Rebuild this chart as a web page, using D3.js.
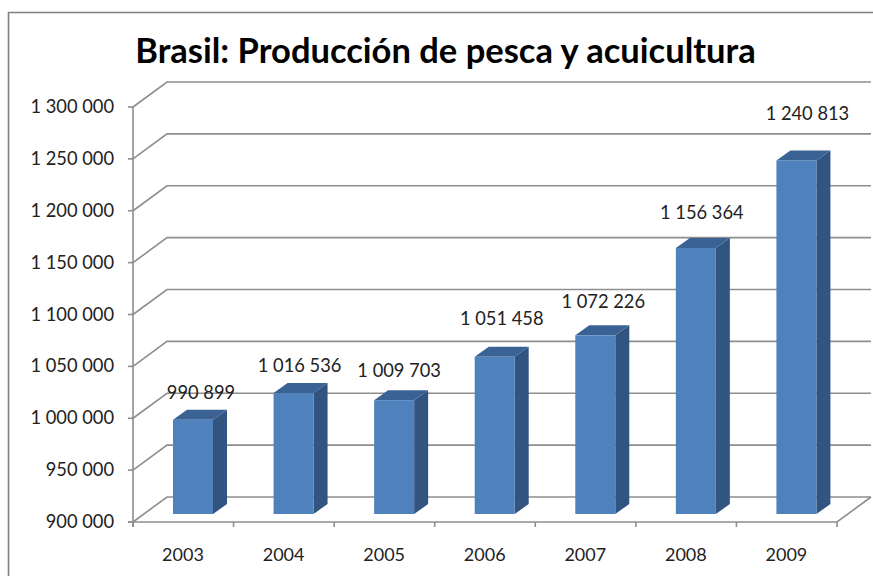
<!DOCTYPE html>
<html><head><meta charset="utf-8">
<script src="https://cdnjs.cloudflare.com/ajax/libs/d3/7.8.5/d3.min.js"></script>
<style>html,body{margin:0;padding:0;background:#fff}svg{display:block}text{font-family:Lato,"Open Sans",sans-serif;fill:#222}</style>
</head><body><script>
const years=["2003","2004","2005","2006","2007","2008","2009"];
const production=[990899,1016536,1009703,1051458,1072226,1156364,1240813];
const valueLabels=["990 899","1 016 536","1 009 703","1 051 458","1 072 226","1 156 364","1 240 813"];
const yTicks=[900000,950000,1000000,1050000,1100000,1150000,1200000,1250000,1300000];
const yTickLabels=["900 000","950 000","1 000 000","1 050 000","1 100 000","1 150 000","1 200 000","1 250 000","1 300 000"];
const chartTitle="Brasil: Producción de pesca y acuicultura";
const labelNudgeX=[-2,-4,-5,-3,-2,-4,1];
const labelNudgeY=[1,1,-1,-10,-5,-7,-18];

const W=873,H=576;
const svg=d3.select("body").append("svg").attr("width",W).attr("height",H);
const x=d3.scaleBand().domain(years).range([133,837]);
const y=d3.scaleLinear().domain([900000,1300000]).range([522,107]);
const wallDx=34,wallDy=-25,gridC="#8e8e8e";
const barW=40,barLeft=40,baseLift=8,depthX=14,depthY=-10;

svg.append("path").attr("d",`M8.5 576V12.5H873`).attr("fill","none").attr("stroke","#808080").attr("stroke-width",1.6);
svg.append("text").attr("x",445.5).attr("y",63).attr("text-anchor","middle").attr("font-size",34.5).attr("font-weight",700)
  .style("fill","#000").text(chartTitle);

const grid=svg.append("g").attr("fill","none").attr("stroke",gridC).attr("stroke-width",1.6);
grid.selectAll("path.g").data(yTicks).join("path").attr("class","g")
  .attr("d",d=>{const p=y(d);return `M133 ${p}L${133+wallDx} ${p+wallDy}H871`;});
grid.append("path").attr("d",`M133 ${y(1300000)}V527M128 522H837L871 497M837 522V527`);
grid.selectAll("path.t").data(yTicks).join("path").attr("class","t").attr("d",d=>`M128 ${y(d)}H133`);
grid.selectAll("path.c").data(years).join("path").attr("class","c").attr("d",d=>`M${x(d)} 522V527`);

svg.append("g").selectAll("text").data(yTicks).join("text")
  .attr("x",114).attr("y",d=>y(d)+6).attr("text-anchor","end").attr("font-size",18.3)
  .text((d,i)=>yTickLabels[i]);
svg.append("g").selectAll("text").data(years).join("text")
  .attr("x",d=>x(d)+barLeft+barW/2-10).attr("y",561).attr("text-anchor","middle").attr("font-size",18).text(d=>d);

const bars=svg.append("g").selectAll("g").data(years).join("g");
const barTop=(d,i)=>y(production[i])-baseLift;
bars.append("path").attr("fill","#325480")
  .attr("d",(d,i)=>{const l=x(d)+barLeft+barW,t=barTop(d,i),b=522-baseLift;
    return `M${l} ${t}l${depthX} ${depthY}V${b+depthY}L${l} ${b}Z`;});
bars.append("path").attr("fill","#3b6295")
  .attr("d",(d,i)=>{const l=x(d)+barLeft,t=barTop(d,i);
    return `M${l} ${t}l${depthX} ${depthY}h${barW}l${-depthX} ${-depthY}Z`;});
bars.append("rect").attr("fill","#4f81bd")
  .attr("x",d=>x(d)+barLeft).attr("width",barW)
  .attr("y",(d,i)=>barTop(d,i)).attr("height",(d,i)=>522-baseLift-barTop(d,i));
svg.append("g").selectAll("text").data(years).join("text")
  .attr("x",(d,i)=>x(d)+barLeft+barW/2+labelNudgeX[i]+10)
  .attr("y",(d,i)=>barTop(d,i)-22+labelNudgeY[i])
  .attr("text-anchor","middle").attr("font-size",18.3).text((d,i)=>valueLabels[i]);
</script></body></html>
